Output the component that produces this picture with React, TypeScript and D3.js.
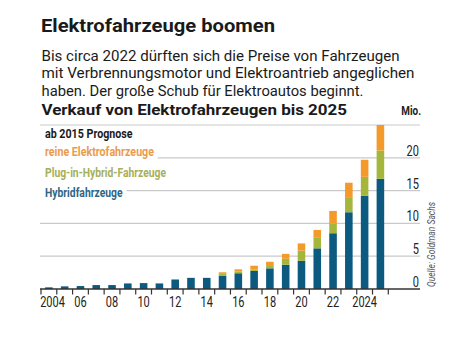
import React from "react";
import * as d3 from "d3";

const years = [2004,2005,2006,2007,2008,2009,2010,2011,2012,2013,2014,2015,2016,2017,2018,2019,2020,2021,2022,2023,2024,2025];
const hybrid = [0.25,0.4,0.45,0.6,0.6,0.85,0.9,0.85,1.45,1.7,1.7,2.0,2.4,2.75,3.15,3.7,4.3,6.2,8.5,11.7,14.2,16.8];
const plugin = [0,0,0,0,0,0,0,0,0,0,0,0.4,0.25,0.2,0.35,0.9,1.55,1.6,1.5,2.3,2.9,4.3];
const electric = [0,0,0,0,0,0,0,0,0,0,0,0.15,0.35,0.6,0.65,0.75,1.1,1.2,1.9,2.2,2.6,3.9];
const yTicks = [0,5,10,15,20];
const xLabels = [[2004,"2004"],[2006,"06"],[2008,"08"],[2010,"10"],[2012,"12"],[2014,"14"],[2016,"16"],[2018,"18"],[2020,"20"],[2022,"22"],[2024,"2024"]];
const seriesNames = ["reine Elektrofahrzeuge","Plug-in-Hybrid-Fahrzeuge","Hybridfahrzeuge"];

const COLORS = { hybrid: "#0d5a80", plugin: "#a4b63c", electric: "#f39a2b" };
const TXT = { electric: "#eb9b4c", plugin: "#a5b05a", hybrid: "#2e6685" };
const cond = "Roboto,'DejaVu Sans',sans-serif";
const sans = "Roboto,'Noto Sans',sans-serif";

function Cond(props: { x: number; y: number; sx?: number; anchor?: string; size: number; weight?: number; fill: string; children: any }) {
  const { x, y, sx = 0.76, anchor = "start", size, weight = 400, fill, children } = props;
  return (
    <text transform={`translate(${x},${y}) scale(${sx},1)`} textAnchor={anchor} fontFamily={cond} fontSize={size} fontWeight={weight} fill={fill}>{children}</text>
  );
}

export default function App() {
  const W = 465, H = 344;
  const x = d3.scaleBand<number>().domain(years).range([41, 388.3]).paddingInner(0.52).paddingOuter(0.26);
  const y = d3.scaleLinear().domain([0, 25]).range([289, 125]);
  const step = x.step();
  const stackData = years.map((yr, i) => ({ yr, hybrid: hybrid[i], plugin: plugin[i], electric: electric[i] }));
  const stack = d3.stack<any>().keys(["hybrid", "plugin", "electric"])(stackData);
  const gridStart: Record<number, number> = { 20: 157.7, 15: 126.7 };
  const ticks = d3.range(years.length + 1).map(i => 41 + i * step);

  return (
    <svg width={W} height={H} style={{ position: "absolute", left: 0, top: 0, background: "#fff" }}>
      <rect width={W} height={H} fill="#fff" />
      <text x={41} y={32} fontFamily={sans} fontWeight={700} fontSize={18} fill="#1a1a1a" textLength={234} lengthAdjust="spacingAndGlyphs">Elektrofahrzeuge boomen</text>
      <text x={41.5} y={61} fontFamily={sans} fontSize={14.5} fill="#1a1a1a" textLength={358} lengthAdjust="spacingAndGlyphs">Bis circa 2022 dürften sich die Preise von Fahrzeugen</text>
      <text x={41.5} y={78.3} fontFamily={sans} fontSize={14.5} fill="#1a1a1a" textLength={373} lengthAdjust="spacingAndGlyphs">mit Verbrennungsmotor und Elektroantrieb angeglichen</text>
      <text x={41.5} y={95.6} fontFamily={sans} fontSize={14.5} fill="#1a1a1a" textLength={322} lengthAdjust="spacingAndGlyphs">haben. Der große Schub für Elektroautos beginnt.</text>
      <text x={41.5} y={115} fontFamily={sans} fontWeight={700} fontSize={14.5} fill="#1a1a1a" textLength={305.5} lengthAdjust="spacingAndGlyphs">Verkauf von Elektrofahrzeugen bis 2025</text>
      <Cond x={421} y={115} anchor="end" size={13} weight={700} fill="#222">Mio.</Cond>

      {[5, 10, 15, 20, 25].map(v => (
        <line key={v} x1={gridStart[v] ?? 40} x2={420} y1={y(v)} y2={y(v)} stroke="#c9c9c9" strokeWidth={1.2} />
      ))}
      {yTicks.map(v => (
        <Cond key={v} x={419} y={y(v) - 2} anchor="end" size={14.5} fill="#222">{v}</Cond>
      ))}

      {stack.map(s => (
        <g key={s.key} fill={(COLORS as any)[s.key]}>
          {s.map((d, i) => (d[1] - d[0] > 0 ? (
            <rect key={i} x={x(years[i])} width={x.bandwidth()} y={y(d[1])} height={y(d[0]) - y(d[1])} />
          ) : null))}
        </g>
      ))}

      <line x1={40} x2={420} y1={289} y2={289} stroke="#333" strokeWidth={1.4} />
      {ticks.map((t, i) => (
        <line key={i} x1={t} x2={t} y1={289} y2={294.5} stroke="#333" strokeWidth={1.2} />
      ))}
      {xLabels.map(([yr, lab]) => (
        <Cond key={yr as number} x={(lab === "2004" ? 52.5 : (x(yr as number) as number) + x.bandwidth() / 2)} y={307} anchor="middle" size={14.5} fill="#222">{lab}</Cond>
      ))}

      <text x={45} y={138} fontFamily={cond} fontWeight={700} fontSize={13} fill="#1a1a1a" textLength={87.5} lengthAdjust="spacingAndGlyphs">ab 2015 Prognose</text>
      <text x={45} y={156} fontFamily={cond} fontWeight={700} fontSize={13} fill={TXT.electric} textLength={109} lengthAdjust="spacingAndGlyphs">{seriesNames[0]}</text>
      <text x={45} y={177} fontFamily={cond} fontWeight={700} fontSize={13} fill={TXT.plugin} textLength={121} lengthAdjust="spacingAndGlyphs">{seriesNames[1]}</text>
      <text x={45} y={196.5} fontFamily={cond} fontWeight={700} fontSize={13} fill={TXT.hybrid} textLength={77.5} lengthAdjust="spacingAndGlyphs">{seriesNames[2]}</text>

      <text transform="translate(435,287) rotate(-90)" fontFamily={cond} fontStyle="italic" fontSize={10.5} fill="#555" textLength={85} lengthAdjust="spacingAndGlyphs">Quelle: Goldman Sachs</text>
    </svg>
  );
}
